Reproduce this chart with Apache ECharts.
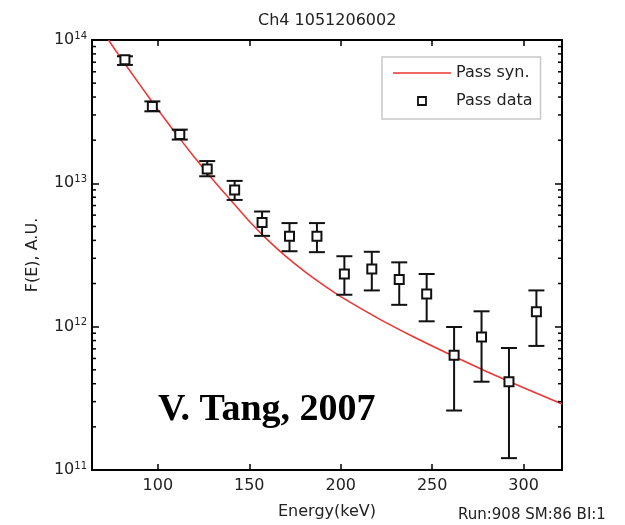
<!DOCTYPE html>
<html>
<head>
<meta charset="utf-8">
<script src="https://cdn.jsdelivr.net/npm/echarts@6/dist/echarts.min.js"></script>
<style>html,body{margin:0;padding:0;background:#fff;}#c{width:625px;height:525px;}</style>
</head>
<body>
<div id="c"></div>
<script>
// ---- data ----
const energy   = [82, 97, 112, 127, 142, 157, 172, 187, 202, 217, 232, 247, 262, 277, 292, 307];
const passData = [7.27e13, 3.44e13, 2.19e13, 1.26e13, 8.98e12, 5.33e12, 4.27e12, 4.27e12, 2.33e12, 2.53e12, 2.13e12, 1.69e12, 6.33e11, 8.47e11, 4.13e11, 1.27e12];
const errHigh  = [7.7e13, 3.73e13, 2.37e13, 1.43e13, 1.04e13, 6.36e12, 5.28e12, 5.28e12, 3.1e12, 3.33e12, 2.81e12, 2.33e12, 9.95e11, 1.28e12, 7.1e11, 1.79e12];
const errLow   = [6.7e13, 3.18e13, 2.02e13, 1.12e13, 7.66e12, 4.3e12, 3.36e12, 3.31e12, 1.67e12, 1.79e12, 1.42e12, 1.09e12, 2.6e11, 4.13e11, 1.21e11, 7.34e11];
const synEnergy = [73, 80, 90, 100, 110, 120, 130, 140, 150, 160, 170, 180, 190, 200, 220, 240, 260, 280, 300, 321];
const synValues = [1e14, 7.41e13, 4.90e13, 3.27e13, 2.21e13, 1.52e13, 1.064e13, 7.59e12, 5.43e12, 4.03e12, 3.09e12, 2.44e12, 1.97e12, 1.62e12, 1.153e12, 8.47e11, 6.37e11, 4.85e11, 3.75e11, 2.89e11];
const xTicks = [100, 150, 200, 250, 300];
const yTicks = [1e11, 1e12, 1e13, 1e14];
const yMinorTicks = [2e11,3e11,4e11,5e11,6e11,7e11,8e11,9e11,2e12,3e12,4e12,5e12,6e12,7e12,8e12,9e12,2e13,3e13,4e13,5e13,6e13,7e13,8e13,9e13];
const xMin = 64, xMax = 321, yMin = 1e11, yMax = 1e14;

const FONT = 'DejaVu Sans';
const TXT = '#222';

const chart = echarts.init(document.getElementById('c'), null, {renderer: 'canvas'});

const axisLineStyle = {show: true, lineStyle: {color: '#000', width: 2}};

const option = {
  backgroundColor: '#fff',
  animation: false,
  title: {
    text: 'Ch4 1051206002',
    left: 253, top: 8,
    textStyle: {fontFamily: FONT, fontSize: 16, fontWeight: 'normal', color: TXT}
  },
  grid: {left: 92, right: 63, top: 40, bottom: 52, containLabel: false},
  legend: {
    left: 382, top: 57,
    orient: 'vertical',
    data: [
      {name: 'Pass syn.', icon: 'path://M0,0L58,0L58,1.6L0,1.6Z'},
      {name: 'Pass data', icon: 'path://M0,0L8,0L8,8L0,8Z', itemStyle: {color: '#fff', borderColor: '#111', borderWidth: 1.8}}
    ],
    itemWidth: 58, itemHeight: 8, itemGap: 12,
    padding: [8, 8, 10, 11],
    backgroundColor: '#fff',
    borderColor: '#c8c8c8', borderWidth: 1.5,
    textStyle: {fontFamily: FONT, fontSize: 16, color: TXT, lineHeight: 15}
  },
  xAxis: [{
    type: 'value', min: xMin, max: xMax,
    name: 'Energy(keV)', nameLocation: 'middle', nameGap: 34,
    nameTextStyle: {fontFamily: FONT, fontSize: 16, color: TXT},
    axisLine: axisLineStyle,
    axisTick: {show: true, inside: true, length: 6, customValues: xTicks, lineStyle: {color: '#000', width: 1.5}},
    axisLabel: {show: true, margin: 8, customValues: xTicks, fontFamily: FONT, fontSize: 16, color: TXT},
    splitLine: {show: false}
  }, {
    type: 'value', min: xMin, max: xMax, position: 'top',
    axisLine: axisLineStyle,
    axisTick: {show: true, inside: true, length: 6, customValues: xTicks, lineStyle: {color: '#000', width: 1.5}},
    axisLabel: {show: false},
    splitLine: {show: false}
  }],
  yAxis: [{
    type: 'log', logBase: 10, min: yMin, max: yMax,
    name: 'F(E), A.U.', nameLocation: 'middle', nameGap: 51,
    nameTextStyle: {fontFamily: FONT, fontSize: 16, color: TXT},
    axisLine: axisLineStyle,
    axisTick: {show: true, inside: true, length: 7, customValues: yTicks, lineStyle: {color: '#000', width: 1.5}},
    axisLabel: {
      show: true, margin: 5, customValues: yTicks,
      formatter: function (v) { return '{b|10}{s|' + Math.round(Math.log10(v)) + '}'; },
      rich: {
        b: {fontFamily: FONT, fontSize: 16, color: TXT, lineHeight: 18},
        s: {fontFamily: FONT, fontSize: 10, color: TXT, verticalAlign: 'top', lineHeight: 12}
      }
    },
    splitLine: {show: false}
  }, {
    type: 'log', logBase: 10, min: yMin, max: yMax, position: 'right',
    axisLine: axisLineStyle,
    axisTick: {show: true, inside: true, length: 7, customValues: yTicks, lineStyle: {color: '#000', width: 1.5}},
    axisLabel: {show: false},
    splitLine: {show: false}
  }],
  graphic: [{
    type: 'text', z: 100,
    style: {x: 158, y: 410, text: 'V. Tang, 2007', font: 'bold 38px "Liberation Serif"', fill: '#000', verticalAlign: 'middle'}
  }, {
    type: 'text', z: 100,
    style: {x: 458, y: 515, text: 'Run:908 SM:86 BI:1', font: '15px "DejaVu Sans"', fill: TXT, verticalAlign: 'middle'}
  }],
  series: [{
    name: 'Pass syn.', type: 'line',
    data: synEnergy.map((e, i) => [e, synValues[i]]),
    showSymbol: false, symbol: 'none', smooth: 0.2,
    lineStyle: {color: '#ee3333', width: 1.5},
    itemStyle: {color: '#ee3333'},
    z: 2
  }, {
    name: 'errbars', type: 'custom',
    data: energy.map((e, i) => [e, errLow[i], errHigh[i]]),
    renderItem: function (params, api) {
      const x = api.value(0);
      const lo = api.coord([x, api.value(1)]);
      const hi = api.coord([x, api.value(2)]);
      const hw = 8;
      const st = {stroke: '#111', lineWidth: 2, fill: null};
      return {type: 'group', children: [
        {type: 'line', shape: {x1: lo[0], y1: lo[1], x2: hi[0], y2: hi[1]}, style: st},
        {type: 'line', shape: {x1: lo[0] - hw, y1: lo[1], x2: lo[0] + hw, y2: lo[1]}, style: st},
        {type: 'line', shape: {x1: hi[0] - hw, y1: hi[1], x2: hi[0] + hw, y2: hi[1]}, style: st}
      ]};
    },
    z: 3
  }, {
    name: 'Pass data', type: 'scatter',
    data: energy.map((e, i) => [e, passData[i]]),
    symbol: 'rect', symbolSize: 9,
    itemStyle: {color: '#fff', borderColor: '#111', borderWidth: 2, opacity: 1},
    z: 4
  }, {
    name: 'minorTicks', type: 'custom',
    data: yMinorTicks.map(v => [v]),
    renderItem: function (params, api) {
      const v = api.value(0);
      const l = api.coord([xMin, v]);
      const r = api.coord([xMax, v]);
      const st = {stroke: '#000', lineWidth: 1.5};
      return {type: 'group', children: [
        {type: 'line', shape: {x1: l[0], y1: l[1], x2: l[0] + 4, y2: l[1]}, style: st},
        {type: 'line', shape: {x1: r[0], y1: r[1], x2: r[0] - 4, y2: r[1]}, style: st}
      ]};
    },
    encode: {x: -1, y: 0},
    silent: true, z: 5
  }]
};
chart.setOption(option);
</script>
</body>
</html>
